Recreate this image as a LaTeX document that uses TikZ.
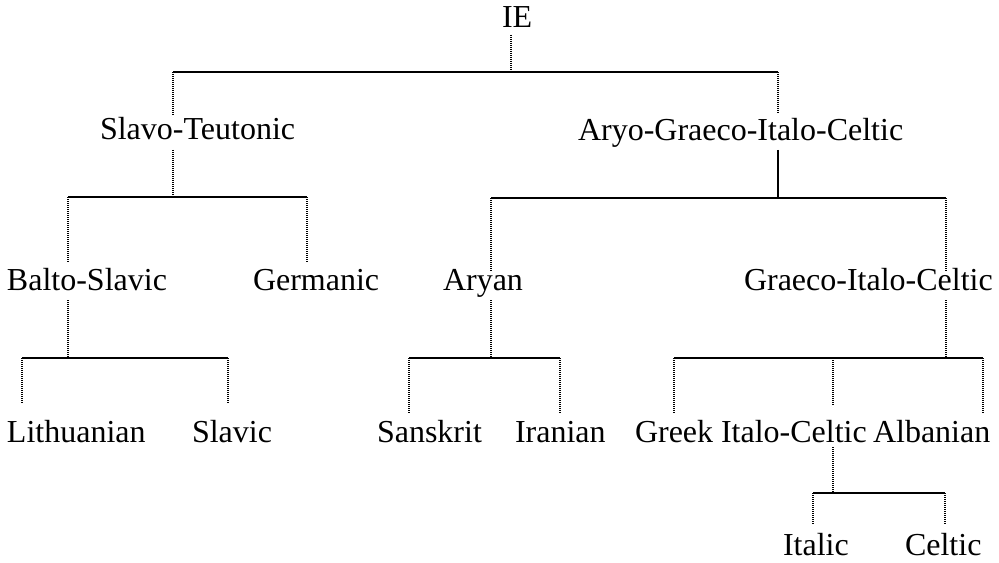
\documentclass[tikz,border=0pt]{standalone}
\usepackage{fontspec}
\setmainfont{Liberation Serif}
\begin{document}
\begin{tikzpicture}[x=0.75pt,y=-0.75pt,
  lbl/.style={anchor=base west,inner sep=0pt,outer sep=0pt,font=\fontsize{24pt}{28pt}\selectfont},
  hline/.style={line width=1pt},
  vdot/.style={line width=0.9pt,dash pattern=on 0.75pt off 0.75pt},
  vsolid/.style={line width=1pt}]
\useasboundingbox (0,0) rectangle (999,563);
% labels
\node[lbl] (ie) at (502,28) {IE};
\node[lbl] (st) at (100,140) {Slavo-Teutonic};
\node[lbl] (agic) at (578,141) {Aryo-Graeco-Italo-Celtic};
\node[lbl] (bs) at (7,290) {Balto-Slavic};
\node[lbl] (ge) at (253,290) {Germanic};
\node[lbl] (ar) at (443,290) {Aryan};
\node[lbl] (gic) at (744,290) {Graeco-Italo-Celtic};
\node[lbl] (li) at (7,442) {Lithuanian};
\node[lbl] (sl) at (192,442) {Slavic};
\node[lbl] (sa) at (377,442) {Sanskrit};
\node[lbl] (ir) at (515,442) {Iranian};
\node[lbl] (gr) at (635,442) {Greek};
\node[lbl] (ic) at (721,442) {Italo-Celtic};
\node[lbl] (al) at (873,442) {Albanian};
\node[lbl] (it) at (783,555) {Italic};
\node[lbl] (ce) at (905,555) {Celtic};
% junction coordinates
\coordinate (ie-s) at (511,35);   \coordinate (ie-j) at (511,72);
\coordinate (t-l) at (173,72);    \coordinate (t-r) at (778,72);
\coordinate (st-n) at (173,115);  \coordinate (agic-n) at (778,114);
\coordinate (st-s) at (173,150);  \coordinate (st-j) at (173,197);
\coordinate (b2-l) at (68,197);   \coordinate (b2-r) at (307,197);
\coordinate (bs-n) at (68,262);   \coordinate (ge-n) at (307,262);
\coordinate (bs-s) at (68,300);   \coordinate (bs-j) at (68,358);
\coordinate (b4-l) at (22,358);   \coordinate (b4-r) at (228,358);
\coordinate (li-n) at (22,403);   \coordinate (sl-n) at (228,403);
\coordinate (agic-s) at (778,150); \coordinate (agic-j) at (778,198);
\coordinate (b3-l) at (491,198);  \coordinate (b3-r) at (946,198);
\coordinate (ar-n) at (491,272);  \coordinate (gic-n) at (946,272);
\coordinate (ar-s) at (491,300);  \coordinate (ar-j) at (491,358);
\coordinate (b5-l) at (409,358);  \coordinate (b5-r) at (560,358);
\coordinate (sa-n) at (409,413);  \coordinate (ir-n) at (560,413);
\coordinate (gic-s) at (946,300); \coordinate (gic-j) at (946,358);
\coordinate (b6-l) at (674,358);  \coordinate (b6-m) at (833,358); \coordinate (b6-r) at (983,358);
\coordinate (gr-n) at (674,413);  \coordinate (ic-n) at (833,405); \coordinate (al-n) at (983,413);
\coordinate (ic-s) at (833,447);  \coordinate (ic-j) at (833,493);
\coordinate (b7-l) at (813,493);  \coordinate (b7-r) at (945,493);
\coordinate (it-n) at (813,525);  \coordinate (ce-n) at (945,525);
% horizontal bars
\draw[hline] (t-l) -- (t-r);
\draw[hline] (b2-l) -- (b2-r);
\draw[hline] (b3-l) -- (b3-r);
\draw[hline] (b4-l) -- (b4-r);
\draw[hline] (b5-l) -- (b5-r);
\draw[hline] (b6-l) -- (b6-r);
\draw[hline] (b7-l) -- (b7-r);
% vertical connectors
\draw[vdot] (ie-s) -- (ie-j);
\draw[vdot] (t-l) -- (st-n);
\draw[vdot] (t-r) -- (agic-n);
\draw[vdot] (st-s) -- (st-j);
\draw[vdot] (b2-l) -- (bs-n);
\draw[vdot] (b2-r) -- (ge-n);
\draw[vdot] (bs-s) -- (bs-j);
\draw[vdot] (b4-l) -- (li-n);
\draw[vdot] (b4-r) -- (sl-n);
\draw[vsolid] (agic-s) -- (agic-j);
\draw[vdot] (b3-l) -- (ar-n);
\draw[vdot] (b3-r) -- (gic-n);
\draw[vdot] (ar-s) -- (ar-j);
\draw[vdot] (b5-l) -- (sa-n);
\draw[vdot] (b5-r) -- (ir-n);
\draw[vdot] (gic-s) -- (gic-j);
\draw[vdot] (b6-l) -- (gr-n);
\draw[vdot] (b6-m) -- (ic-n);
\draw[vdot] (b6-r) -- (al-n);
\draw[vdot] (ic-s) -- (ic-j);
\draw[vdot] (b7-l) -- (it-n);
\draw[vdot] (b7-r) -- (ce-n);
\end{tikzpicture}
\end{document}
